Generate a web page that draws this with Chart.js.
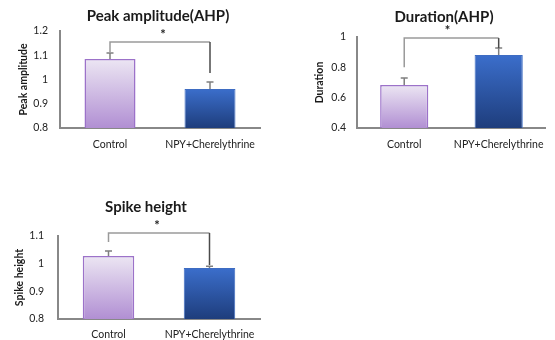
<!DOCTYPE html>
<html><head><meta charset="utf-8">
<script src="https://cdn.jsdelivr.net/npm/chart.js@4/dist/chart.umd.min.js"></script>
<style>
body{margin:0;background:#fff;width:555px;height:340px;position:relative;overflow:hidden}
canvas{position:absolute}
</style></head><body>
<canvas id="c1" width="275" height="160" style="left:0;top:0"></canvas>
<canvas id="c2" width="275" height="160" style="left:280px;top:0"></canvas>
<canvas id="c3" width="275" height="150" style="left:0;top:190px"></canvas>
<script>
const categories = ['Control', 'NPY+Cherelythrine'];

const peakValues = [1.085, 0.961];
const peakErrors = [0.024, 0.029];
const peakTicks = [0.8, 0.9, 1, 1.1, 1.2];
const peakBracket = [1.155, 1.113, 1.027];

const durationValues = [0.684, 0.881];
const durationErrors = [0.046, 0.046];
const durationTicks = [0.4, 0.6, 0.8, 1];
const durationBracket = [0.993, 0.80, 0.927];

const spikeValues = [1.028, 0.984];
const spikeErrors = [0.018, 0.007];
const spikeTicks = [0.8, 0.9, 1, 1.1];
const spikeBracket = [1.111, 1.078, 0.995];

const FONT = 'Lato, "Open Sans", sans-serif';

function barFill(ctx) {
  const chart = ctx.chart;
  const area = chart.chartArea;
  const i = ctx.dataIndex;
  if (!area) return i === 0 ? '#c9b4e0' : '#2d57a8';
  const y = chart.scales.y;
  const top = y.getPixelForValue(ctx.raw);
  const g = chart.ctx.createLinearGradient(0, top, 0, area.bottom);
  if (i === 0) { g.addColorStop(0, '#ece6f3'); g.addColorStop(1, '#b18fd3'); }
  else { g.addColorStop(0, '#3b6ecb'); g.addColorStop(1, '#1e3d7c'); }
  return g;
}

const extras = {
  id: 'extras',
  afterDatasetsDraw(chart, args, o) {
    const c = chart.ctx, y = chart.scales.y, a = chart.chartArea;
    const meta = chart.getDatasetMeta(0);
    const vals = chart.data.datasets[0].data;
    c.save();
    // error bars
    c.strokeStyle = '#7f7f7f'; c.lineWidth = 1.5;
    o.errors.forEach((e, i) => {
      const x = meta.data[i].x;
      const yb = y.getPixelForValue(vals[i]);
      const yt = y.getPixelForValue(vals[i] + e);
      c.beginPath(); c.moveTo(x, yb); c.lineTo(x, yt);
      c.moveTo(x - 3.5, yt); c.lineTo(x + 3.5, yt); c.stroke();
    });
    // bracket
    const xl = meta.data[0].x, xr = meta.data[1].x;
    const yt = y.getPixelForValue(o.bracket[0]);
    const yl = y.getPixelForValue(o.bracket[1]);
    const yr = y.getPixelForValue(o.bracket[2]);
    c.lineWidth = 1.5; c.strokeStyle = '#9a9a9a';
    c.beginPath(); c.moveTo(xl, yl); c.lineTo(xl, yt); c.lineTo(xr, yt); c.stroke();
    c.strokeStyle = '#4a4a4a';
    c.beginPath(); c.moveTo(xr, yt); c.lineTo(xr, yr); c.stroke();
    c.fillStyle = '#222'; c.font = 'bold 13px ' + FONT;
    c.textAlign = 'center'; c.textBaseline = 'middle';
    c.fillText('*', (xl + xr) / 2 + o.starDx, yt - 7);
    // title
    c.fillStyle = '#1a1a1a'; c.font = 'bold 15px ' + FONT;
    c.fillText(o.title, o.titleX, o.titleY);
    // y title
    c.translate(o.yTitleX, (a.top + a.bottom) / 2);
    c.rotate(-Math.PI / 2);
    c.font = 'bold 10.5px ' + FONT;
    c.fillText(o.yTitle, 0, 0);
    c.restore();
  }
};

function make(id, values, errors, ticks, bracket, opt) {
  return new Chart(document.getElementById(id), {
    type: 'bar',
    data: {
      labels: categories,
      datasets: [{
        data: values,
        backgroundColor: barFill,
        borderColor: ['#9c72c9', '#3e6cc2'],
        borderWidth: [1.5, 1],
        borderSkipped: 'bottom',
        barPercentage: opt.bar,
        categoryPercentage: 1
      }]
    },
    options: {
      responsive: false,
      animation: false,
      layout: { padding: { top: opt.top, left: 0, right: opt.right, bottom: 0 } },
      plugins: {
        legend: { display: false },
        tooltip: { enabled: false },
        title: { display: false },
        extras: {
          errors: errors, bracket: bracket, title: opt.title, titleX: opt.titleX,
          titleY: opt.titleY, yTitle: opt.yTitle, yTitleX: opt.yTitleX, starDx: opt.starDx
        }
      },
      scales: {
        x: {
          grid: { display: false, drawTicks: false },
          border: { display: true, color: '#888', width: 2 },
          ticks: { color: '#222', font: { family: FONT, size: 10.5 }, padding: opt.xPad, maxRotation: 0 },
          afterFit: s => { s.height = opt.xH; }
        },
        y: {
          min: ticks[0], max: ticks[ticks.length - 1],
          afterBuildTicks: s => { s.ticks = ticks.map(v => ({ value: v })); },
          grid: { display: false, drawTicks: false },
          border: { display: true, color: '#888', width: 2 },
          ticks: { color: '#222', font: { family: FONT, size: 10.5 }, padding: opt.yPad,
                   callback: v => String(v) },
          afterFit: s => { s.width = opt.yW; }
        }
      }
    },
    plugins: [extras]
  });
}

make('c1', peakValues, peakErrors, peakTicks, peakBracket, {
  bar: 0.51, top: 31, right: 15, xH: 32, xPad: 10, yW: 60, yPad: 12,
  title: 'Peak amplitude(AHP)', titleX: 158, titleY: 16,
  yTitle: 'Peak amplitude', yTitleX: 24, starDx: 3
});
make('c2', durationValues, durationErrors, durationTicks, durationBracket, {
  bar: 0.51, top: 37, right: 6, xH: 32, xPad: 10, yW: 77, yPad: 11,
  title: 'Duration(AHP)', titleX: 164, titleY: 17,
  yTitle: 'Duration', yTitleX: 40, starDx: -4
});
make('c3', spikeValues, spikeErrors, spikeTicks, spikeBracket, {
  bar: 0.51, top: 46, right: 15, xH: 21, xPad: 9, yW: 58, yPad: 14,
  title: 'Spike height', titleX: 146, titleY: 17,
  yTitle: 'Spike height', yTitleX: 20, starDx: -2
});
</script>
</body></html>
